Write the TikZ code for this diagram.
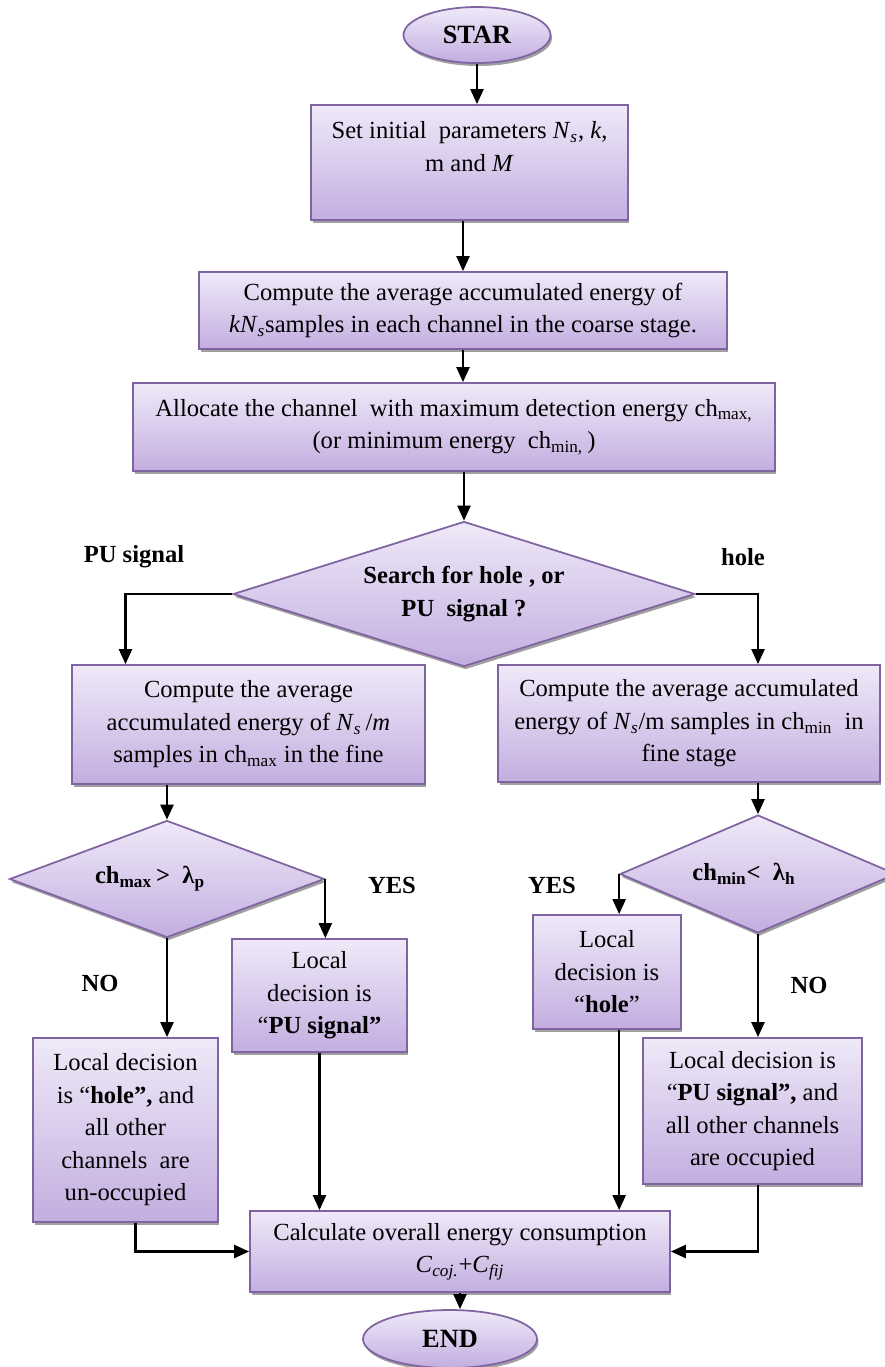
\documentclass[tikz,border=0pt]{standalone}
\usepackage{fontspec}
\setmainfont{Liberation Serif}
\usetikzlibrary{arrows.meta,positioning,shapes.geometric,shadows}
\definecolor{Lilac}{HTML}{EFE9F8}
\definecolor{Lavender}{HTML}{C3AEE0}
\definecolor{Plum}{HTML}{8064A2}
\definecolor{ShadowGrey}{HTML}{A0A0A0}
\newcommand{\Ns}{\textit{N}\textsubscript{\textit{s}}}
\begin{document}
\begin{tikzpicture}[x=0.02cm,y=-0.02cm,
 panel/.style={draw=Plum,line width=1pt,top color=Lilac,bottom color=Lavender,drop shadow={shadow xshift=0.03cm,shadow yshift=-0.06cm,fill=ShadowGrey,opacity=1},align=center,font=\fontsize{14}{18.5}\selectfont},
 process/.style={panel,rectangle},
 decision/.style={panel,diamond,inner sep=0pt,font=\fontsize{14}{18.5}\selectfont\bfseries},
 terminal/.style={panel,ellipse,font=\fontsize{15}{18.5}\selectfont\bfseries},
 tag/.style={font=\fontsize{14}{18.5}\selectfont\bfseries},
 arrow/.style={-{Triangle[length=0.3cm,width=0.26cm]},line width=1.3pt,draw=black}]
 \useasboundingbox (0,0) rectangle (885,1367);
 \node[terminal,minimum width=2.94cm,minimum height=1.12cm](start) at (477,35){STAR};
 \node[process,minimum width=6.34cm,minimum height=2.3cm](params) at (469.5,162.5){Set initial~ parameters \Ns, \textit{k},\\ m and \textit{M}\\ \mbox{}};
 \node[process,minimum width=10.56cm,minimum height=1.54cm](coarse) at (463,310.5){Compute the average accumulated energy of\\ \textit{kN}\textsubscript{\textit{s}}samples in each channel in the coarse stage.};
 \node[process,minimum width=12.84cm,minimum height=1.76cm](allocate) at (454,427){Allocate the channel~ with maximum detection energy ch\textsubscript{max,}\\ (or minimum energy~ ch\textsubscript{min,}\,)};
 \node[decision,aspect=3.2,minimum width=9.24cm,minimum height=2.9cm](search) at (464,594){Search for hole , or\\ PU~ signal ?};
 \node[process,minimum width=7.06cm,minimum height=2.38cm](fineMax) at (248.5,724.5){Compute the average\\ accumulated energy of \Ns\,/\textit{m}\\ samples in ch\textsubscript{max} in the fine};
 \node[process,minimum width=7.64cm,minimum height=2.34cm](fineMin) at (689,723.5){Compute the average accumulated\\ energy of \Ns/m samples in ch\textsubscript{min}~ in\\ fine stage};
 \node[decision,aspect=2.7,minimum width=6.3cm,minimum height=2.34cm](testMax) at (167,879){ch\textsubscript{max}\,>~~λ\textsubscript{p}\hspace{0.68cm}\null};
 \node[decision,aspect=2.35,minimum width=5.52cm,minimum height=2.36cm](testMin) at (758,874){ch\textsubscript{min}<~~λ\textsubscript{h}\hspace{0.56cm}\null};
 \node[process,minimum width=3.5cm,minimum height=2.26cm](puLocal) at (319.5,995.5){Local\\ decision is\\ “\textbf{PU signal”}};
 \node[process,minimum width=2.96cm,minimum height=2.28cm](holeLocal) at (607,972){Local\\ decision is\\ “\textbf{hole}”};
 \node[process,minimum width=3.7cm,minimum height=3.68cm](holeAll) at (125.5,1130){Local decision\\ is “\textbf{hole”,} and\\ all other\\ channels~ are\\ un-occupied};
 \node[process,minimum width=4.38cm,minimum height=2.92cm](puAll) at (752.5,1111){Local decision is\\ “\textbf{PU signal”,} and\\ all other channels\\ are occupied};
 \node[process,minimum width=8.4cm,minimum height=1.62cm](total) at (460,1251.5){Calculate overall energy consumption\\ \textit{C}\textsubscript{\textit{coj.}}+\textit{C}\textsubscript{\textit{fij}}};
 \node[terminal,minimum width=3.48cm,minimum height=1.16cm](finish) at (450,1339){END};
 \node[tag](lblPU) at (134,557){PU signal};
 \node[tag](lblHole) at (743,557){hole};
 \node[tag](yesMax) at (392,885){YES};
 \node[tag](yesMin) at (552,885){YES};
 \node[tag](noMax) at (100,983){NO};
 \node[tag](noMin) at (809,985){NO};
 \draw[arrow](start.south)--(start.south|-params.north);\draw[arrow](coarse.north|-params.south)--(coarse.north);\draw[arrow](coarse.south)--(coarse.south|-allocate.north);\draw[arrow](allocate.south-|search.north)--(search.north);
 \draw[arrow](search.west)-|(fineMax.north-|holeAll);\draw[arrow](search.east)-|(fineMin.north-|testMin);
 \draw[arrow](fineMax.south-|testMax)--(testMax.north);\draw[arrow](fineMin.south-|testMin)--(testMin.north);
 \draw[arrow](testMax.east)--(testMax.east|-puLocal.north);\draw[arrow](testMin.west)--(testMin.west|-holeLocal.north);
 \draw[arrow](testMax.south)--(testMax.south|-holeAll.north);\draw[arrow](testMin.south)--(testMin.south|-puAll.north);
 \draw[arrow]([xshift=0.2cm]holeAll.south)|-(total.west);\draw[arrow](puLocal.south)--(puLocal.south|-total.north);
 \draw[arrow](holeLocal.south-|testMin.west)--(testMin.west|-total.north);\draw[arrow](puAll.south-|testMin)|-(total.east);
 \draw[arrow](total.south)--(total.south|-finish.north);
\end{tikzpicture}
\end{document}
